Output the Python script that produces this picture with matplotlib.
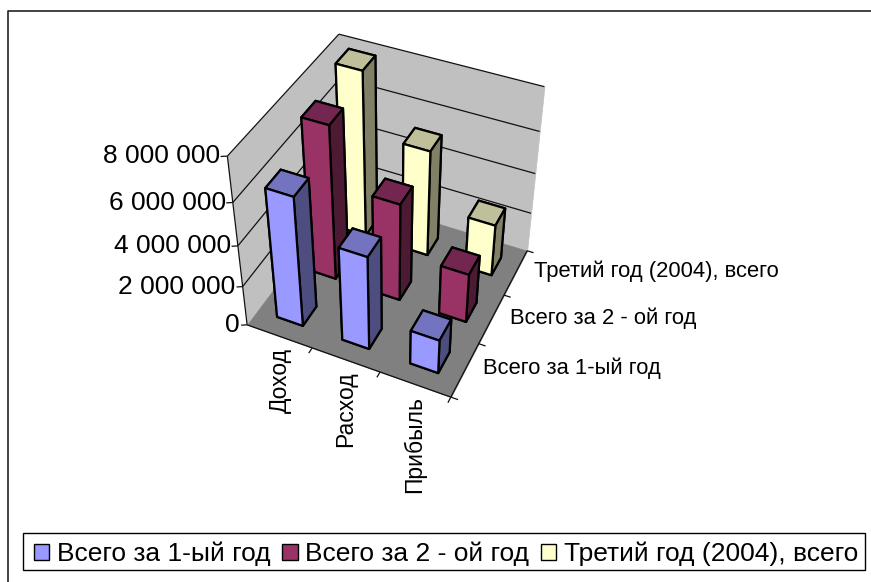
import numpy as np
import matplotlib
matplotlib.use('Agg')
import matplotlib.pyplot as plt
from matplotlib.lines import Line2D
from matplotlib.patches import Patch, Rectangle
from mpl_toolkits.mplot3d.art3d import Poly3DCollection, Line3DCollection

plt.rcParams['font.family'] = ['Liberation Sans', 'DejaVu Sans']

categories = ['Доход', 'Расход', 'Прибыль']
series_names = ['Всего за 1-ый год', 'Всего за 2 - ой год', 'Третий год (2004), всего']
year1 = [6300000, 4600000, 1700000]
year2 = [7450000, 4800000, 2450000]
year3 = [8050000, 5250000, 2600000]
z_ticks = [0, 2000000, 4000000, 6000000, 8000000]
z_labels = ['0', '2 000 000', '4 000 000', '6 000 000', '8 000 000']
front_colors = ['#9999FF', '#993366', '#FFFFCC']
side_colors = ['#4D4D80', '#4D1A33', '#808066']
top_colors = ['#7373BF', '#732650', '#BFBF99']
ZMAX = 8000000.0
W, H = 871, 582

# camera: reference cube (x cat, y series, z fraction) -> image pixels
cam_world = [(0,0,0),(3,0,0),(3,3,0),(0,3,0),(0,0,1),(0,3,1),(3,3,1),
             (1,0,0),(2,0,0),(3,1,0),(3,2,0),
             (0,0,.25),(0,0,.5),(0,0,.75),(3,3,.25),(3,3,.5),(3,3,.75)]
cam_px = [(248.3,325),(448.3,396.7),(526,250),(343,196),(226.7,156.7),(340,33),(544.3,87.3),
          (312,348),(378,373),(481.7,343),(508,295),
          (243,285),(238,247),(233,202),(530,213),(534,175),(540,131)]

def fit_camera(world, px):
    rows = []
    for (x, y, z), (u, v) in zip(world, px):
        u, v = u / 500.0, v / 500.0
        X = [x, y, z, 1]
        rows.append(X + [0, 0, 0, 0] + [-u * c for c in X])
        rows.append([0, 0, 0, 0] + X + [-v * c for c in X])
    _, _, vt = np.linalg.svd(np.array(rows, float))
    P = vt[-1].reshape(3, 4)
    if (P[2] @ np.array([1.5, 1.5, .5, 1])) < 0:
        P = -P
    P = P / (P[2] @ np.array([1.5, 1.5, .5, 1]))
    P[:2] *= 500.0
    P[:, 2] /= ZMAX      # z now in data units
    return P

P = fit_camera(cam_world, cam_px)

def to_px(x, y, z):
    h = P @ np.array([x, y, z, 1.0])
    return h[0] / h[2], h[1] / h[2]

fig = plt.figure(figsize=(W / 100, H / 100), dpi=100, facecolor='white')
ax = fig.add_axes([0, 0, 1, 1], projection='3d', computed_zorder=False)
ax.set_axis_off()
ax.patch.set_visible(False)

def custom_proj():
    inv = ax.transData.inverted()
    (x0, y0), (x1, y1) = inv.transform([(0, H), (1, H - 1)])  # px (0,0) and (1,1)
    sx, sy = x1 - x0, y1 - y0
    M = np.zeros((4, 4))
    M[0] = sx * P[0] + x0 * P[2]
    M[1] = sy * P[1] + y0 * P[2]
    M[2] = np.array([-0.5, 1.0, -0.4 / ZMAX, 0.0])
    M[3] = P[2]
    return M

ax.get_proj = custom_proj

# walls and floor
wall = '#C0C0C0'
left = [(0,0,0),(0,3,0),(0,3,ZMAX),(0,0,ZMAX)]
back = [(0,3,0),(3,3,0),(3,3,ZMAX),(0,3,ZMAX)]
floor = [(0,0,0),(3,0,0),(3,3,0),(0,3,0)]
for poly, col in ((left, wall), (back, wall), (floor, '#808080')):
    pc = Poly3DCollection([poly], facecolors=col, edgecolors=col, linewidths=0.5, zorder=1)
    ax.add_collection3d(pc, autolim=False)

# grid lines, axis edges and tick marks
segments = []
for z in z_ticks[1:]:
    segments.append([(0, 0, z), (0, 3, z)])
    segments.append([(0, 3, z), (3, 3, z)])
segments.append([(0, 0, 0), (0, 0, ZMAX)])
segments.append([(0, 0, 0), (3, 0, 0)])
segments.append([(3, 0, 0), (3, 3, 0)])
for z in z_ticks:
    segments.append([(0, 0, z), (-0.07, -0.04, z)])
for i in range(1, 4):
    segments.append([(i, 0, 0), (i, -0.1, 0)])
for j in range(0, 4):
    segments.append([(3, j, 0), (3.1, j, 0)])
lc = Line3DCollection(segments, colors='#111111', linewidths=0.9, zorder=5)
ax.add_collection3d(lc, autolim=False)

# bars: back rows first, then left to right
series = [year1, year2, year3]
bar_w = 0.4
off = (1 - bar_w) / 2
zo = 10
for j in (2, 1, 0):
    for i in range(3):
        # bar3d faces: bottom, top, front(-y), back(+y), left(-x), right(+x)
        faces = [side_colors[j], top_colors[j], front_colors[j],
                 side_colors[j], side_colors[j], side_colors[j]]
        b = ax.bar3d(i + off, j + off, 0, bar_w, bar_w, series[j][i], color=faces,
                     shade=False, edgecolor='black', linewidth=1.6, zorder=zo)
        zo += 1

# tick labels
def label(px, py, s, **kw):
    fig.text(px / W, 1 - py / H, s, color='black', **kw)

for z, s in zip(z_ticks, z_labels):
    u, v = to_px(0, 0, z)
    label(u - 7, v, s, ha='right', va='center', fontsize=19)
for i, s in enumerate(categories):
    u, v = to_px(i + 0.5, 0, 0)
    label(u + 1 - i, v + 12, s, ha='center', va='top', rotation=90, fontsize=16.5)
for j, s in enumerate(series_names):
    u, v = to_px(3, j + 0.5, 0)
    label(u + 18, v - 1, s, ha='left', va='center', fontsize=15.8)

# chart frame (left and top edges only)
fig.add_artist(Line2D([8 / W, 8 / W, 1], [0, 1 - 11 / H, 1 - 11 / H],
                      transform=fig.transFigure, color='#222222', lw=1.2))

# legend box and entries
fig.add_artist(Rectangle((23 / W, 1 - 570 / H), (865 - 23) / W, 37 / H,
                         transform=fig.transFigure, facecolor='white',
                         edgecolor='black', linewidth=1.0, zorder=3))
handles = [Patch(facecolor=c, edgecolor='black', linewidth=1) for c in front_colors]
leg = fig.legend(handles, series_names, ncol=3, loc='center left',
                 bbox_to_anchor=(34 / W, 1 - 554 / H),
                 borderaxespad=0, borderpad=0, fontsize=19, frameon=False,
                 handlelength=0.57, handleheight=0.57,
                 handletextpad=0.3, columnspacing=0.45)
leg.set_zorder(4)

fig.savefig('out.png', dpi=100)
